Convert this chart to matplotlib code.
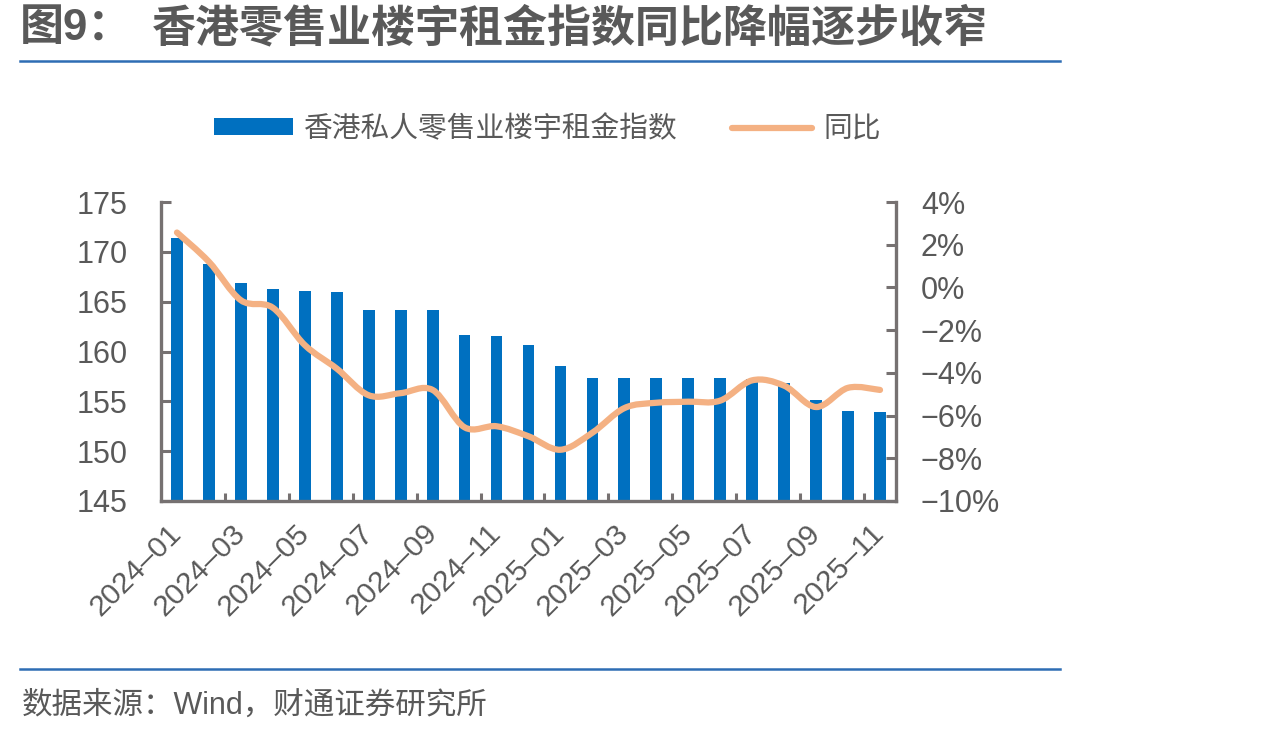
import matplotlib
matplotlib.use("Agg")
import matplotlib.pyplot as plt
import numpy as np
from matplotlib.path import Path
from matplotlib.patches import PathPatch, Patch
from matplotlib.lines import Line2D

plt.rcParams['font.family'] = ['Liberation Sans', 'Noto Sans CJK SC', 'DejaVu Sans']

# data
months = ['2024–01', '2024–02', '2024–03', '2024–04', '2024–05', '2024–06',
          '2024–07', '2024–08', '2024–09', '2024–10', '2024–11', '2024–12',
          '2025–01', '2025–02', '2025–03', '2025–04', '2025–05', '2025–06',
          '2025–07', '2025–08', '2025–09', '2025–10', '2025–11']
rent_index = [171.4, 168.8, 166.9, 166.3, 166.1, 166.0, 164.2, 164.2, 164.2,
              161.7, 161.6, 160.7, 158.5, 157.3, 157.3, 157.3, 157.3, 157.3,
              157.2, 156.8, 155.1, 154.0, 153.9]
yoy = [2.57, 1.2, -0.6, -0.95, -2.7, -3.8, -5.05, -4.95, -4.8, -6.55, -6.5,
       -6.97, -7.6, -6.8, -5.65, -5.4, -5.35, -5.3, -4.35, -4.6, -5.6, -4.7, -4.8]

bar_color = '#0070C0'
line_color = '#F4B183'
text_color = '#595959'
axis_color = '#767171'


def smooth_path(xs, ys):
    # bezier curve through the data points (like a "smoothed line" in Excel)
    verts = [(xs[0], ys[0])]
    codes = [Path.MOVETO]
    n = len(xs)
    for i in range(n - 1):
        xa, ya = (xs[i - 1], ys[i - 1]) if i > 0 else (xs[i], ys[i])
        xb, yb = (xs[i + 2], ys[i + 2]) if i + 2 < n else (xs[i + 1], ys[i + 1])
        c1 = (xs[i] + (xs[i + 1] - xa) / 6, ys[i] + (ys[i + 1] - ya) / 6)
        c2 = (xs[i + 1] - (xb - xs[i]) / 6, ys[i + 1] - (yb - ys[i]) / 6)
        verts += [c1, c2, (xs[i + 1], ys[i + 1])]
        codes += [Path.CURVE4] * 3
    return Path(verts, codes)


fig = plt.figure(figsize=(12.74, 7.37), dpi=100)
ax = fig.add_axes([161 / 1274, 1 - 501 / 737, (896 - 161) / 1274, (501 - 202) / 737])
x = np.arange(len(months))
ax.bar(x, rent_index, width=0.37, color=bar_color, zorder=2)
ax.set_xlim(-0.5, len(months) - 0.5)
ax.set_ylim(145, 175)
ax.set_yticks(np.arange(145, 176, 5))

ax2 = ax.twinx()
ax2.set_ylim(-10, 4)
ax2.set_yticks(np.arange(-10, 5, 2))
ax2.set_yticklabels([f'{v}%'.replace('-', '−') for v in range(-10, 5, 2)])
ax2.add_patch(PathPatch(smooth_path(list(x), yoy), fill=False, edgecolor=line_color,
                        lw=4.5, capstyle='round', joinstyle='round', zorder=3))

# x axis: labels every two months, ticks between categories
ax.set_xticks(x[::2])
ax.set_xticklabels(months[::2], rotation=45, ha='right', va='center',
                   rotation_mode='anchor')
ax.set_xticks(np.arange(1.5, len(months) - 1, 2), minor=True)
ax.tick_params(axis='x', which='major', length=0, pad=20, labelsize=21.5,
               labelcolor=text_color)
ax.tick_params(axis='x', which='minor', direction='in', length=6, width=2.2,
               color=axis_color)
ax.tick_params(axis='y', direction='in', length=7, width=2.2, color=axis_color,
               pad=24, labelsize=22, labelcolor=text_color)
ax2.tick_params(axis='y', direction='in', length=7, width=2.2, color=axis_color,
                pad=18, labelsize=22, labelcolor=text_color)

for a in (ax, ax2):
    a.spines['top'].set_visible(False)
    for s in ('left', 'right', 'bottom'):
        a.spines[s].set_color(axis_color)
        a.spines[s].set_linewidth(2.4)
ax.spines['right'].set_visible(False)
ax2.spines['left'].set_visible(False)
ax2.spines['bottom'].set_visible(False)

# legend
handles = [Patch(facecolor=bar_color, edgecolor='none'),
           Line2D([], [], color=line_color, lw=4.5, solid_capstyle='round')]
fig.legend(handles, ['香港私人零售业楼宇租金指数', '同比'], loc='center',
           bbox_to_anchor=(547 / 1274, 1 - 129 / 737), ncol=2, frameon=False,
           fontsize=20.7, labelcolor=text_color, handlelength=2.75,
           handleheight=0.55, handletextpad=0.4, columnspacing=1.9)

# title and footer
fig.text(20 / 1274, 1 - 29 / 737, '图9：', fontsize=31.7, fontweight='bold',
         color=text_color, va='center', ha='left')
fig.text(152 / 1274, 1 - 29 / 737, '香港零售业楼宇租金指数同比降幅逐步收窄',
         fontsize=31.7, fontweight='bold', color=text_color, va='center', ha='left')
fig.add_artist(Line2D([20 / 1274, 1060 / 1274], [1 - 61 / 737] * 2,
                      color='#2E6DB4', lw=1.8, transform=fig.transFigure))
fig.add_artist(Line2D([20 / 1274, 1060 / 1274], [1 - 669 / 737] * 2,
                      color='#2E6DB4', lw=1.8, transform=fig.transFigure))
fig.text(22 / 1274, 1 - 706 / 737, '数据来源：Wind，财通证券研究所',
         fontsize=22, color=text_color, va='center', ha='left')

fig.savefig('out.png', dpi=100)
